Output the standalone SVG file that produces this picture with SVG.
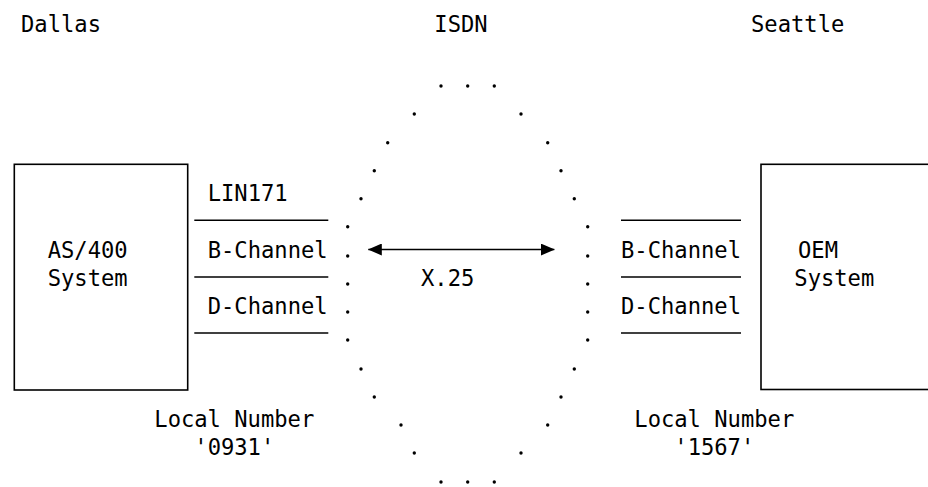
<svg xmlns="http://www.w3.org/2000/svg" width="928" height="487" viewBox="0 0 928 487">
<style>
  text { font-family: "DejaVu Sans Mono", "Liberation Mono", monospace; font-size: 22.15px; fill: #000; }
  .box { fill: none; stroke: #000; stroke-width: 1.6; }
  .ln { stroke: #000; stroke-width: 1.6; fill: none; }
  .dot { fill: #000; }
</style>
<defs>
  <marker id="ah" viewBox="0 0 14 12" refX="13.5" refY="6" markerWidth="14" markerHeight="12" markerUnits="userSpaceOnUse" orient="auto-start-reverse">
    <path d="M0,0 L14,6 L0,12 Z" fill="#000"/>
  </marker>
</defs>
<rect width="928" height="487" fill="#fff"/>

<g id="labels">
  <text x="21" y="31.7">Dallas</text>
  <text x="434.3" y="31.7">ISDN</text>
  <text x="751" y="31.7">Seattle</text>
</g>

<g id="as400">
  <rect class="box" x="14.3" y="164.3" width="173.4" height="225.7"/>
  <text x="47.7" y="257.6">AS/400</text>
  <text x="47.7" y="285.8">System</text>
</g>

<g id="left-channels">
  <text x="207.7" y="201">LIN171</text>
  <line class="ln" x1="194.3" y1="220.3" x2="328.3" y2="220.3"/>
  <text x="207.7" y="257.6">B-Channel</text>
  <line class="ln" x1="194.3" y1="277" x2="328.3" y2="277"/>
  <text x="207.7" y="313.9">D-Channel</text>
  <line class="ln" x1="194.3" y1="333" x2="328.3" y2="333"/>
  <text x="154.3" y="426.8">Local Number</text>
  <text x="194.3" y="455">'0931'</text>
</g>

<g id="isdn">
  <g class="dot">
    <circle cx="441" cy="86" r="1.7"/><circle cx="467.7" cy="86" r="1.7"/><circle cx="494.3" cy="86" r="1.7"/>
    <circle cx="414.3" cy="114" r="1.7"/><circle cx="521" cy="114" r="1.7"/>
    <circle cx="387.7" cy="142.7" r="1.7"/><circle cx="547.7" cy="142.7" r="1.7"/>
    <circle cx="374.3" cy="170.7" r="1.7"/><circle cx="561" cy="170.7" r="1.7"/>
    <circle cx="361" cy="198.7" r="1.7"/><circle cx="574.3" cy="198.7" r="1.7"/>
    <circle cx="347.7" cy="226.7" r="1.7"/><circle cx="587.7" cy="226.7" r="1.7"/>
    <circle cx="347.7" cy="256" r="1.7"/><circle cx="587.7" cy="256" r="1.7"/>
    <circle cx="347.7" cy="284" r="1.7"/><circle cx="587.7" cy="284" r="1.7"/>
    <circle cx="347.7" cy="312" r="1.7"/><circle cx="587.7" cy="312" r="1.7"/>
    <circle cx="347.7" cy="340" r="1.7"/><circle cx="587.7" cy="340" r="1.7"/>
    <circle cx="361" cy="369" r="1.7"/><circle cx="574.3" cy="369" r="1.7"/>
    <circle cx="374.3" cy="397" r="1.7"/><circle cx="561" cy="397" r="1.7"/>
    <circle cx="401" cy="425" r="1.7"/><circle cx="547.7" cy="425" r="1.7"/>
    <circle cx="414.3" cy="453" r="1.7"/><circle cx="521" cy="453" r="1.7"/>
    <circle cx="441" cy="482" r="1.7"/><circle cx="467.7" cy="482" r="1.7"/><circle cx="494.3" cy="482" r="1.7"/>
  </g>
  <text x="421" y="285.8">X.25</text>
</g>

<g id="right-channels">
  <line class="ln" x1="621" y1="220.3" x2="741" y2="220.3"/>
  <text x="621" y="257.6">B-Channel</text>
  <line class="ln" x1="621" y1="277" x2="741" y2="277"/>
  <text x="621" y="313.9">D-Channel</text>
  <line class="ln" x1="621" y1="333" x2="741" y2="333"/>
  <text x="634.3" y="426.8">Local Number</text>
  <text x="674.3" y="455">'1567'</text>
</g>

<g id="oem">
  <rect class="box" x="761" y="164.3" width="180" height="225.2"/>
  <text x="798" y="257.6">OEM</text>
  <text x="794.3" y="285.8">System</text>
</g>

<g id="connectors">
  <line class="ln" x1="368.3" y1="249.5" x2="554.3" y2="249.5" stroke-width="2" marker-start="url(#ah)" marker-end="url(#ah)"/>
</g>
</svg>
